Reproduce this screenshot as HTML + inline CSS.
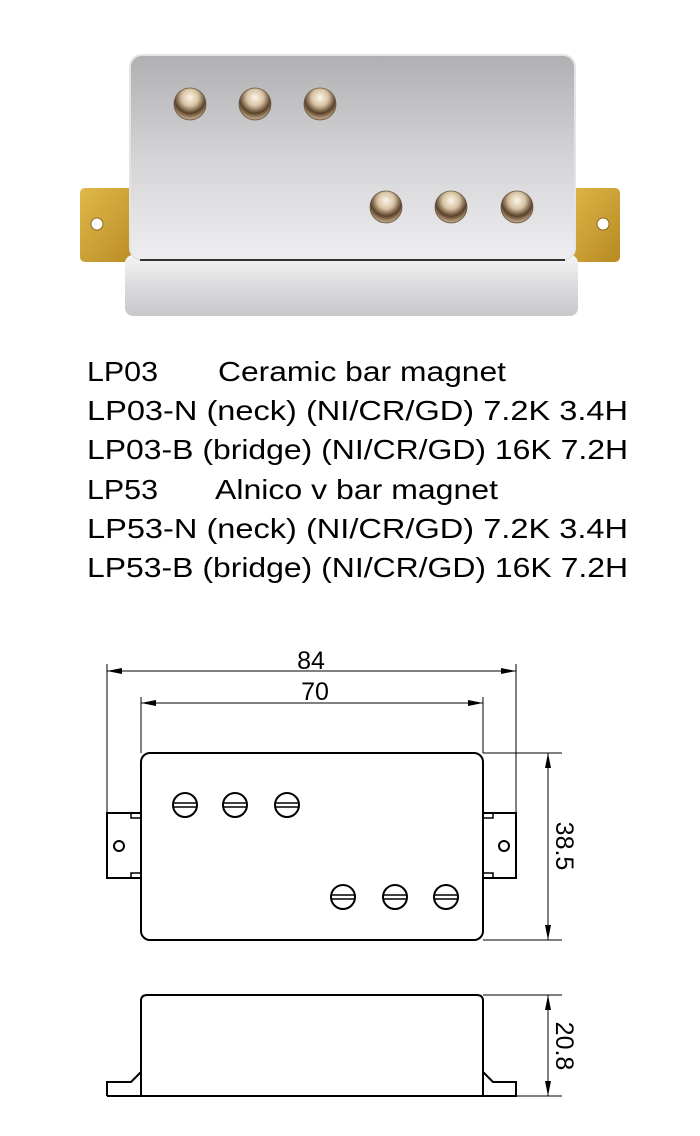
<!DOCTYPE html>
<html><head><meta charset="utf-8"><style>
html,body{margin:0;padding:0;background:#fff;}
svg{display:block;}
</style></head><body>
<svg width="700" height="1136" viewBox="0 0 700 1136" xmlns="http://www.w3.org/2000/svg">
<defs>
<linearGradient id="chrome" x1="0" y1="0" x2="0" y2="1">
<stop offset="0" stop-color="#b0b0b2"/><stop offset="0.5" stop-color="#d4d4d6"/><stop offset="1" stop-color="#eeeef0"/>
</linearGradient>
<linearGradient id="side" x1="0" y1="0" x2="0" y2="1">
<stop offset="0" stop-color="#f6f6f7"/><stop offset="0.5" stop-color="#dcdcde"/><stop offset="1" stop-color="#c8c8ca"/>
</linearGradient>
<linearGradient id="gold" x1="0" y1="0" x2="1" y2="1">
<stop offset="0" stop-color="#e0b84a"/><stop offset="1" stop-color="#b88a22"/>
</linearGradient>
<radialGradient id="pole" cx="0.5" cy="0.3" r="0.65">
<stop offset="0" stop-color="#fbf5ea"/><stop offset="0.4" stop-color="#d8c4a4"/><stop offset="0.75" stop-color="#5a4028"/><stop offset="1" stop-color="#b49c7c"/>
</radialGradient>
</defs>
<!-- photo -->
<rect x="80" y="188" width="60" height="74" rx="5" fill="url(#gold)"/>
<circle cx="97" cy="224" r="6" fill="#fff" stroke="#8a6a20"/>
<rect x="565" y="188" width="55" height="74" rx="5" fill="url(#gold)"/>
<circle cx="603" cy="224" r="6" fill="#fff" stroke="#8a6a20"/>
<rect x="125" y="255" width="453" height="61" rx="8" fill="url(#side)"/>
<rect x="130" y="55" width="445" height="205" rx="12" fill="url(#chrome)" stroke="#e4e4e6" stroke-width="2"/>
<line x1="140" y1="260" x2="565" y2="260" stroke="#333" stroke-width="2"/>
<g fill="url(#pole)" stroke="#6a5a48" stroke-width="0.8">
<circle cx="190" cy="104" r="16"/><circle cx="255" cy="104" r="16"/><circle cx="320" cy="104" r="16"/>
<circle cx="386" cy="207" r="16"/><circle cx="451" cy="207" r="16"/><circle cx="517" cy="207" r="16"/>
</g>
<!-- text -->
<g font-family="Liberation Sans, sans-serif" font-size="28" fill="#000" lengthAdjust="spacingAndGlyphs">
<text x="87" y="381" textLength="71" lengthAdjust="spacingAndGlyphs">LP03</text>
<text x="218" y="381" textLength="288" lengthAdjust="spacingAndGlyphs">Ceramic bar magnet</text>
<text x="87" y="420" textLength="541" lengthAdjust="spacingAndGlyphs">LP03-N (neck) (NI/CR/GD)  7.2K 3.4H</text>
<text x="87" y="459" textLength="541" lengthAdjust="spacingAndGlyphs">LP03-B (bridge) (NI/CR/GD) 16K 7.2H</text>
<text x="87" y="499" textLength="71" lengthAdjust="spacingAndGlyphs">LP53</text>
<text x="215" y="499" textLength="283" lengthAdjust="spacingAndGlyphs">Alnico v bar magnet</text>
<text x="87" y="538" textLength="541" lengthAdjust="spacingAndGlyphs">LP53-N (neck) (NI/CR/GD)  7.2K 3.4H</text>
<text x="87" y="577" textLength="541" lengthAdjust="spacingAndGlyphs">LP53-B (bridge) (NI/CR/GD) 16K 7.2H</text>
</g>
<!-- drawing top view -->
<g stroke="#000" fill="none">
<line x1="107" y1="664" x2="107" y2="813" stroke-width="1"/>
<line x1="516" y1="664" x2="516" y2="813" stroke-width="1"/>
<line x1="107" y1="671" x2="516" y2="671" stroke-width="1"/>
<line x1="141" y1="697" x2="141" y2="753" stroke-width="1"/>
<line x1="483" y1="697" x2="483" y2="753" stroke-width="1"/>
<line x1="141" y1="703" x2="483" y2="703" stroke-width="1"/>
<rect x="141" y="753" width="342" height="187" rx="9" stroke-width="2"/>
<rect x="107" y="813" width="34" height="65" stroke-width="2"/>
<rect x="483" y="813" width="33" height="65" stroke-width="2"/>
<path d="M131 813 V818 H141 M131 878 V873 H141 M493 813 V818 H483 M493 878 V873 H483" stroke-width="1.5"/>
<circle cx="119" cy="846" r="5" stroke-width="2"/>
<circle cx="504" cy="846" r="5" stroke-width="2"/>
<line x1="483" y1="753" x2="562" y2="753" stroke-width="1"/>
<line x1="483" y1="940" x2="562" y2="940" stroke-width="1"/>
<line x1="548" y1="753" x2="548" y2="940" stroke-width="1"/>
<g stroke-width="2">
<circle cx="185" cy="805" r="12"/><circle cx="235" cy="805" r="12"/><circle cx="287" cy="805" r="12"/>
<circle cx="343" cy="897" r="12"/><circle cx="395" cy="897" r="12"/><circle cx="446" cy="897" r="12"/>
</g>
<path d="M173 803 H197 M173 807 H197 M223 803 H247 M223 807 H247 M275 803 H299 M275 807 H299 M331 895 H355 M331 899 H355 M383 895 H407 M383 899 H407 M434 895 H458 M434 899 H458" stroke-width="1.5"/>
<!-- side view -->
<path d="M141 1096 V1001 Q141 995 147 995 H477 Q483 995 483 1001 V1096" stroke-width="2"/>
<path d="M107 1096 V1082 H131 L141 1072 M107 1096 H516 V1082 H493 L483 1072" stroke-width="2"/>
<line x1="483" y1="995" x2="562" y2="995" stroke-width="1"/>
<line x1="516" y1="1096" x2="562" y2="1096" stroke-width="1"/>
<line x1="548" y1="995" x2="548" y2="1096" stroke-width="1"/>
</g>
<g fill="#000">
<path d="M107 671 L122 668 L122 674Z M516 671 L501 668 L501 674Z M141 703 L156 700 L156 706Z M483 703 L468 700 L468 706Z"/>
<path d="M548 753 L545 768 L551 768Z M548 940 L545 925 L551 925Z M548 995 L545 1010 L551 1010Z M548 1096 L545 1081 L551 1081Z"/>
</g>
<g font-family="Liberation Sans, sans-serif" font-size="25" fill="#000" text-anchor="middle">
<text x="311" y="669">84</text>
<text x="315" y="700">70</text>
<text transform="translate(556,846) rotate(90)">38.5</text>
<text transform="translate(556,1046) rotate(90)">20.8</text>
</g>
</svg>
</body></html>
